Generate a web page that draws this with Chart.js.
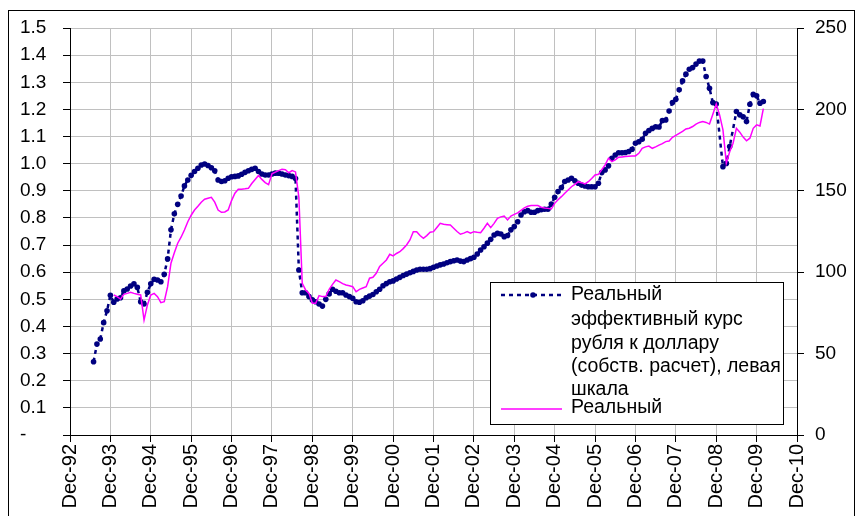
<!DOCTYPE html>
<html>
<head>
<meta charset="utf-8">
<script src="https://cdn.jsdelivr.net/npm/chart.js@4"></script>
<style>
  html, body { margin: 0; padding: 0; background: #fff; }
  #wrap { position: relative; width: 864px; height: 516px; }
</style>
</head>
<body>
<div id="wrap"><canvas id="c" width="864" height="516"></canvas></div>
<script>
// ---- Data (month index: 0 = Dec-92, 12 = Dec-93, ...) ----
const tickLabels = ['Dec-92','Dec-93','Dec-94','Dec-95','Dec-96','Dec-97','Dec-98','Dec-99','Dec-00',
  'Dec-01','Dec-02','Dec-03','Dec-04','Dec-05','Dec-06','Dec-07','Dec-08','Dec-09','Dec-10'];

const leftTicks = [0,0.1,0.2,0.3,0.4,0.5,0.6,0.7,0.8,0.9,1.0,1.1,1.2,1.3,1.4,1.5];
const rightTicks = [0,50,100,150,200,250];

// Series 1: real effective rouble/dollar rate (own calculation), left scale; first month = Jul-93
const blueStartMonth = 7;
const blueValues = [
  0.270, 0.335, 0.354, 0.414, 0.458, 0.515,                                  // 1993 Jul-Dec
  0.489, 0.501, 0.506, 0.531, 0.538, 0.549, 0.557, 0.544, 0.491, 0.483, 0.526, 0.557, // 1994
  0.574, 0.571, 0.565, 0.592, 0.649, 0.756, 0.815, 0.850, 0.881, 0.918, 0.940, 0.957, // 1995
  0.971, 0.983, 0.995, 0.999, 0.993, 0.985, 0.974, 0.940, 0.934, 0.937, 0.946, 0.952, // 1996
  0.953, 0.955, 0.961, 0.968, 0.974, 0.979, 0.983, 0.971, 0.962, 0.958, 0.958, 0.962, // 1997
  0.965, 0.965, 0.962, 0.958, 0.956, 0.953, 0.945, 0.608, 0.524, 0.524, 0.510, 0.498, // 1998
  0.491, 0.483, 0.475, 0.500, 0.520, 0.537, 0.530, 0.524, 0.524, 0.516, 0.510, 0.504, // 1999
  0.491, 0.489, 0.495, 0.506, 0.512, 0.518, 0.528, 0.537, 0.550, 0.558, 0.565, 0.568, // 2000
  0.575, 0.581, 0.588, 0.593, 0.598, 0.603, 0.608, 0.611, 0.611, 0.611, 0.613, 0.618, // 2001
  0.623, 0.627, 0.630, 0.635, 0.639, 0.642, 0.645, 0.641, 0.639, 0.645, 0.650, 0.655, // 2002
  0.667, 0.682, 0.694, 0.707, 0.721, 0.737, 0.743, 0.741, 0.731, 0.735, 0.756, 0.768, // 2003
  0.786, 0.811, 0.823, 0.827, 0.821, 0.821, 0.827, 0.830, 0.832, 0.832, 0.851, 0.876, // 2004
  0.897, 0.912, 0.934, 0.940, 0.946, 0.937, 0.928, 0.921, 0.918, 0.915, 0.915, 0.915, // 2005
  0.928, 0.967, 0.977, 0.992, 1.020, 1.032, 1.040, 1.040, 1.041, 1.045, 1.053, 1.075, // 2006
  1.081, 1.090, 1.112, 1.122, 1.130, 1.136, 1.135, 1.159, 1.161, 1.194, 1.225, 1.237, // 2007
  1.272, 1.305, 1.330, 1.348, 1.354, 1.367, 1.378, 1.378, 1.321, 1.278, 1.225, 1.220, // 2008
  null,  0.989, 1.001, 1.063, null,  1.192, 1.180, 1.173, 1.155, 1.219, 1.256, 1.250, // 2009
  1.223, 1.229                                                                 // 2010
];

// Series 2: real index, right scale; first month = Jan-94
const pinkStartMonth = 13;
const pinkValues = [
  86.0, 85.0, 83.5, 86.4, 87.0, 87.7, 87.0, 86.4, 86.0, 70.6, 79.9, 86.0,        // 1994
  87.0, 85.0, 81.3, 81.9, 91.1, 105.5, 112.0, 117.8, 121.5, 125.9, 131.0, 135.0, // 1995
  138.2, 140.5, 143.0, 144.8, 145.4, 146.0, 143.0, 138.2, 136.8, 137.0, 138.2, 144.0, // 1996
  148.5, 150.9, 151.0, 151.2, 151.5, 154.5, 157.0, 159.4, 157.0, 155.0, 153.8, 160.5, // 1997
  161.5, 162.4, 163.2, 163.0, 161.1, 162.4, 161.6, 146.0, 93.2, 89.1, 87.0, 80.9,  // 1998
  80.9, 85.6, 85.0, 85.0, 89.5, 92.5, 95.2, 94.2, 93.0, 92.1, 91.7, 91.1,          // 1999
  88.0, 89.5, 90.3, 91.1, 96.3, 96.9, 99.3, 103.6, 105.5, 107.5, 111.0, 110.0,     // 2000
  111.5, 112.6, 114.5, 116.7, 119.8, 124.9, 124.9, 122.5, 120.8, 122.5, 124.5, 124.9, // 2001
  127.5, 130.0, 129.4, 129.2, 129.0, 127.0, 125.0, 123.3, 124.0, 124.9, 123.9, 124.9, // 2002
  124.5, 124.3, 127.0, 130.0, 127.4, 130.0, 133.1, 134.0, 134.5, 132.1, 134.5, 135.5, // 2003
  136.4, 138.0, 139.5, 140.5, 140.9, 140.9, 140.9, 139.9, 139.5, 139.2, 138.8, 142.3, // 2004
  144.5, 146.4, 148.5, 150.5, 152.5, 154.0, 155.6, 155.0, 154.2, 155.6, 157.5, 159.7, // 2005
  160.1, 163.0, 165.9, 170.0, 167.9, 169.0, 170.6, 170.8, 171.0, 171.2, 171.3, 171.4, // 2006
  173.0, 176.1, 177.0, 177.5, 176.1, 177.0, 178.1, 179.0, 180.2, 180.6, 182.9, 184.0, // 2007
  185.3, 186.5, 188.0, 188.4, 189.5, 191.0, 192.0, 192.5, 192.0, 191.0, 197.0, 203.3, // 2008
  196.6, 187.4, 167.0, 174.0, 179.2, 188.4, 186.0, 183.0, 180.7, 182.3, 188.4, 190.5, // 2009
  189.8, 200.5                                                                    // 2010
];

const legendLines1 = ['Реальный', 'эффективный курс', 'рубля к доллару', '(собств. расчет), левая', 'шкала'];
const legendLine2 = 'Реальный';

// ---- Build points from the arrays ----
const bluePoints = blueValues.map((v, i) => ({ x: blueStartMonth + i, y: v }));
const pinkPoints = pinkValues.map((v, i) => ({ x: pinkStartMonth + i, y: v }));

const FONT = "'Liberation Sans', Arial, sans-serif";
Chart.defaults.font.family = FONT;
Chart.defaults.font.size = 19;
Chart.defaults.color = '#000';

const NAVY = '#000080';
const PINK = '#ff00ff';

const frameAndLegend = {
  id: 'frameAndLegend',
  afterDraw(chart) {
    const ctx = chart.ctx;
    ctx.save();
    // outer chart frame
    ctx.strokeStyle = '#000';
    ctx.lineWidth = 1;
    ctx.setLineDash([]);
    ctx.strokeRect(8.5, 10.5, 846, 520);

    // legend box
    const bx = 490, by = 282, bw = 293, bh = 142;
    ctx.fillStyle = '#fff';
    ctx.fillRect(bx, by, bw, bh);
    ctx.strokeRect(bx + 0.5, by + 0.5, bw, bh);

    // entry 1 sample: dashed navy with marker
    const y1 = 295;
    ctx.strokeStyle = NAVY;
    ctx.lineWidth = 2.5;
    ctx.setLineDash([4, 4]);
    ctx.beginPath();
    ctx.moveTo(501, y1); ctx.lineTo(562, y1);
    ctx.stroke();
    ctx.setLineDash([]);
    ctx.fillStyle = NAVY;
    ctx.beginPath();
    ctx.arc(533, y1, 2.8, 0, Math.PI * 2);
    ctx.fill();

    // entry 1 text
    ctx.fillStyle = '#000';
    ctx.font = '19.5px ' + FONT;
    ctx.textAlign = 'left';
    ctx.textBaseline = 'middle';
    const ys = [295, 320, 344, 367, 390];
    legendLines1.forEach((t, i) => ctx.fillText(t, 571, ys[i]));

    // entry 2 sample + text
    const y2 = 409;
    ctx.strokeStyle = PINK;
    ctx.lineWidth = 1.5;
    ctx.beginPath();
    ctx.moveTo(501, y2); ctx.lineTo(562, y2);
    ctx.stroke();
    ctx.fillText(legendLine2, 571, 408);
    ctx.restore();
  }
};

new Chart(document.getElementById('c'), {
  type: 'line',
  data: {
    datasets: [
      {
        label: legendLines1.join(' '),
        data: bluePoints,
        yAxisID: 'y',
        borderColor: NAVY,
        backgroundColor: NAVY,
        borderWidth: 2.5,
        borderDash: [4, 4],
        pointRadius: 2.8,
        pointBorderWidth: 0,
        pointBackgroundColor: NAVY,
        pointHoverRadius: 2.8,
        tension: 0,
        spanGaps: true,
        order: 1
      },
      {
        label: legendLine2,
        data: pinkPoints,
        yAxisID: 'y2',
        borderColor: PINK,
        backgroundColor: PINK,
        borderWidth: 1.5,
        pointRadius: 0,
        tension: 0,
        spanGaps: true,
        order: 0
      }
    ]
  },
  options: {
    responsive: false,
    animation: false,
    devicePixelRatio: 1,
    layout: { padding: { left: 20, right: 10, top: 28, bottom: 0 } },
    plugins: { legend: { display: false }, tooltip: { enabled: false } },
    scales: {
      x: {
        type: 'linear',
        min: 0,
        max: (tickLabels.length - 1) * 12,
        afterBuildTicks: (s) => { s.ticks = tickLabels.map((_, i) => ({ value: i * 12 })); },
        ticks: {
          autoSkip: false,
          minRotation: 90,
          maxRotation: 90,
          padding: 2,
          color: '#000',
          font: { size: 20 },
          callback: (v) => tickLabels[Math.round(v / 12)]
        },
        grid: { color: '#c0c0c0', tickColor: '#000', tickLength: 7, lineWidth: 1 },
        border: { color: '#000', width: 1 },
        afterFit: (s) => { s.height = 81; }
      },
      y: {
        position: 'left',
        min: 0,
        max: 1.5,
        afterBuildTicks: (s) => { s.ticks = leftTicks.map(v => ({ value: v })); },
        ticks: {
          crossAlign: 'far',
          color: '#000',
          font: { size: 19 },
          callback: (v) => (Math.abs(v) < 1e-9 ? '-' : Number(v).toFixed(1))
        },
        grid: { color: '#c0c0c0', tickColor: '#000', tickLength: 7, lineWidth: 1 },
        border: { color: '#000', width: 1 },
        afterFit: (s) => { s.width = 50; }
      },
      y2: {
        position: 'right',
        min: 0,
        max: 250,
        afterBuildTicks: (s) => { s.ticks = rightTicks.map(v => ({ value: v })); },
        ticks: {
          padding: 11,
          color: '#000',
          font: { size: 19 },
          callback: (v) => String(v)
        },
        grid: { drawOnChartArea: false, tickColor: '#000', tickLength: 7 },
        border: { color: '#000', width: 1 },
        afterFit: (s) => { s.width = 57; }
      }
    }
  },
  plugins: [frameAndLegend]
});
</script>
</body>
</html>
